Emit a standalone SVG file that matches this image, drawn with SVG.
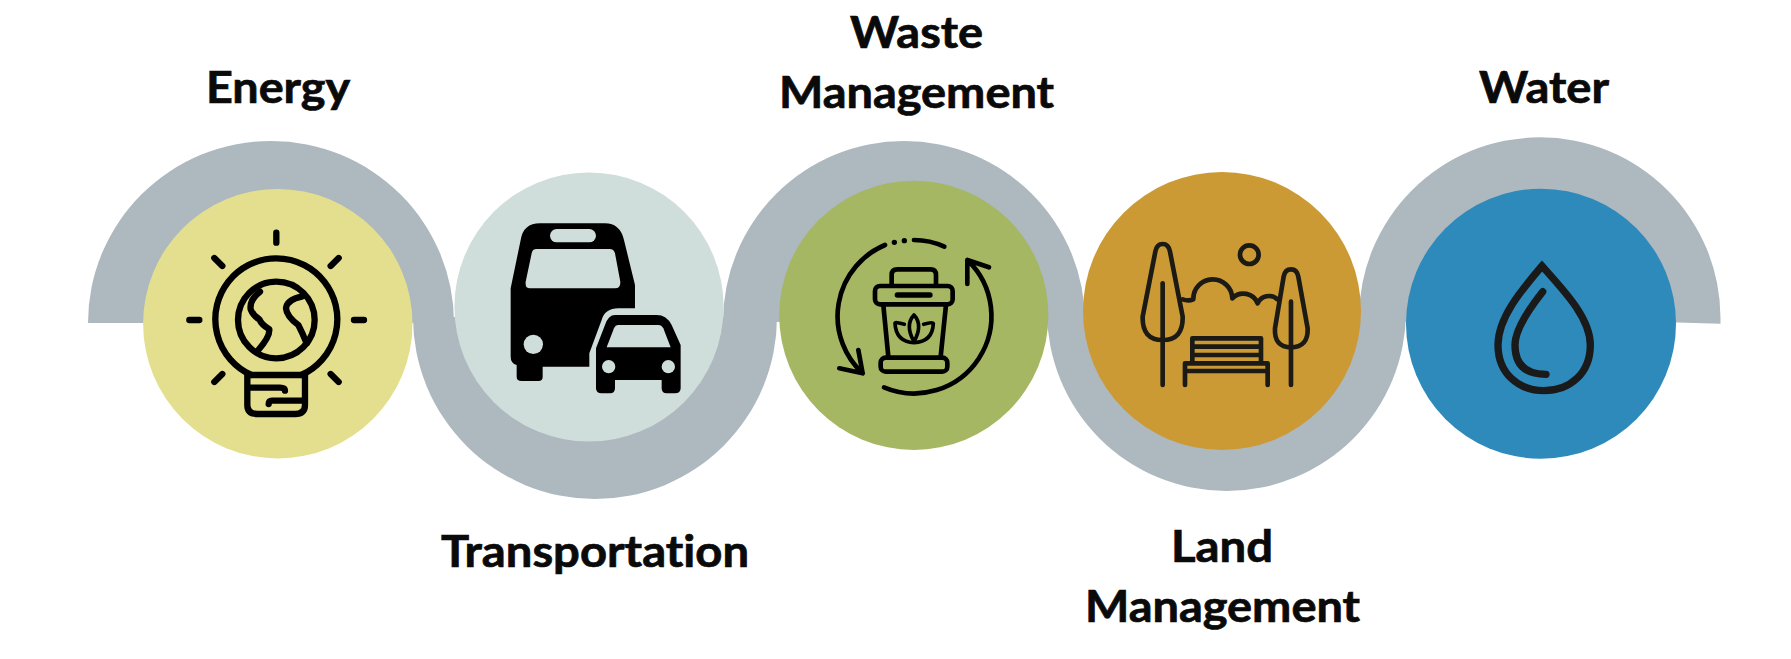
<svg xmlns="http://www.w3.org/2000/svg" width="1791" height="659" viewBox="0 0 1791 659">
<style>
.ribbon{fill:#adb8bf}
.lbl{font-family:Lato,"Open Sans","Liberation Sans",sans-serif;font-weight:700;font-size:43px;fill:#0a0a0a;stroke:#0a0a0a;stroke-width:.7px;font-variant-ligatures:none}
.ic{fill:none;stroke:#000;stroke-linecap:round;stroke-linejoin:round}
.k{fill:#000}
</style>
<rect width="1791" height="659" fill="#fff"/>
<g id="connectors">
<path class="ribbon" d="M88 323A183 182 0 0 1 454 323Z"/>
<path class="ribbon" d="M413 317A182 182 0 0 0 777 317Z"/>
<path class="ribbon" d="M723 322A181 181 0 0 1 1085 322Z"/>
<path class="ribbon" d="M1047 311.500A179.500 179.500 0 0 0 1406 311.500Z"/>
<path class="ribbon" d="M1359 318A180.700 180.700 0 0 1 1720.500 318V323.700L1660 322H1359Z"/>
</g>
<g id="energy">
<circle cx="277.800" cy="323.700" r="134.700" fill="#e4df8e"/>
<g class="ic" transform="translate(170 210) scale(.3333)" stroke-width="19">
<path d="M244 495A183 183 0 1 1 394 495"/>
<path d="M232 495H405V585Q405 612 375 612H262Q232 612 232 585Z"/>
<circle cx="319" cy="330" r="115"/>
<path d="M319 68V98M58 330H88M552 330H582M133 144L157 168M506 144L482 168M133 516L157 492M506 516L482 492"/>
<path d="M270 245Q238 270 242 298Q250 318 268 328Q275 345 298 358Q300 380 265 420"/>
<path d="M395 260Q350 270 348 295Q350 320 385 345Q398 370 410 400"/>
<path d="M240 533H330Q345 533 345 542M400 572H306Q296 572 296 582"/>
</g>
<text class="lbl" x="206" y="103" textLength="144" lengthAdjust="spacingAndGlyphs">Energy</text>
</g>
<g id="transportation">
<circle cx="589" cy="307" r="134.600" fill="#cfdddb"/>
<g transform="translate(490 200) scale(.3333)">
<path class="k" d="M150 70H345Q390 70 402 120L435 255V325H385Q345 325 335 360L298 460V500H158V530Q158 543 145 543H95Q80 543 80 530V495Q62 490 62 470V265L92 120Q100 70 150 70Z"/>
<rect x="180" y="87" width="138" height="40" rx="20" fill="#cfdddb"/>
<path fill="#cfdddb" d="M140 147H358Q372 147 375 160L391 245Q392 265 375 265H120Q105 265 107 245L125 160Q127 147 140 147Z"/>
<circle cx="130" cy="433" r="29" fill="#cfdddb"/>
<path class="k" d="M375 345H500Q530 345 545 375L572 435V565Q572 580 555 580H530Q515 580 515 565V540H375V565Q375 580 360 580H335Q318 580 318 565V445L345 375Q355 345 375 345Z"/>
<path fill="#cfdddb" d="M385 375H505Q515 375 520 385L542 442H350L372 385Q376 375 385 375Z"/>
<circle cx="356" cy="500" r="20" fill="#cfdddb"/>
<circle cx="535" cy="500" r="20" fill="#cfdddb"/>
</g>
<text class="lbl" x="441" y="566.600" textLength="308" lengthAdjust="spacingAndGlyphs">Transportation</text>
</g>
<g id="waste-management">
<circle cx="913.800" cy="315.300" r="134.600" fill="#a6b764"/>
<g class="ic" transform="translate(810 210) scale(.3333)" stroke-width="14">
<path d="M225 105A232 232 0 0 0 158 490M88 475L158 490L145 420"/>
<path d="M472 150A232 232 0 0 1 222 532M472 222V150L537 172"/>
<path d="M312 90Q360 90 403 110"/>
<path d="M253 97h.1M283 92h.1" stroke-width="16"/>
<path d="M245 225V195Q245 178 262 178H362Q378 178 378 195V225"/>
<rect x="195" y="228" width="233" height="55" rx="15"/>
<path d="M262 255H360" stroke-width="16"/>
<path d="M220 285L235 440M408 285L392 440"/>
<rect x="212" y="443" width="200" height="42" rx="15"/>
<path d="M312 315Q340 345 312 395Q284 345 312 315Z" stroke-width="11"/>
<path d="M283 343Q255 335 255 340Q258 395 312 398Q368 395 370 340Q368 335 341 343" stroke-width="11"/>
</g>
<text class="lbl" x="850" y="47.500" textLength="133" lengthAdjust="spacingAndGlyphs">Waste</text>
<text class="lbl" x="779" y="108" textLength="275" lengthAdjust="spacingAndGlyphs">Management</text>
</g>
<g id="land-management">
<circle cx="1222" cy="311" r="139" fill="#cb9a34"/>
<g class="ic" transform="translate(1120 220) scale(.3333)" style="stroke:#1c1a14" stroke-width="14">
<path d="M106 95Q110 72 128 72Q146 72 150 95L188 290Q190 360 128 360Q66 360 68 290Z"/>
<path d="M128 190V495"/>
<path d="M491 170Q495 148 513 148Q531 148 535 170L563 325Q565 382 513 382Q462 382 465 325Z"/>
<path d="M513 245V495"/>
<circle cx="388" cy="104" r="28"/>
<path d="M188 238Q205 244 220 238A58 58 0 0 1 337 235A46 46 0 0 1 413 250A37 37 0 0 1 472 238"/>
<path d="M217 355H423M217 380H423M217 405H423M217 355V428M423 355V428M195 430H443M195 453H443M195 430V495M443 430V495"/>
</g>
<text class="lbl" x="1171" y="562" textLength="102" lengthAdjust="spacingAndGlyphs">Land</text>
<text class="lbl" x="1085" y="622" textLength="275" lengthAdjust="spacingAndGlyphs">Management</text>
</g>
<g id="water">
<circle cx="1541" cy="323.700" r="135" fill="#2e8abb"/>
<g class="ic" transform="translate(1470 240) scale(.3333)" style="stroke:#1a1a1a" stroke-width="22">
<path d="M216 78C150 155 84 235 84 315C84 400 145 452 222 452C300 452 361 400 361 315C361 235 285 155 216 78Z" stroke-linejoin="miter"/>
<path d="M218 155Q135 260 135 315Q135 403 228 403"/>
</g>
<text class="lbl" x="1479" y="103" textLength="130" lengthAdjust="spacingAndGlyphs">Water</text>
</g>
</svg>
